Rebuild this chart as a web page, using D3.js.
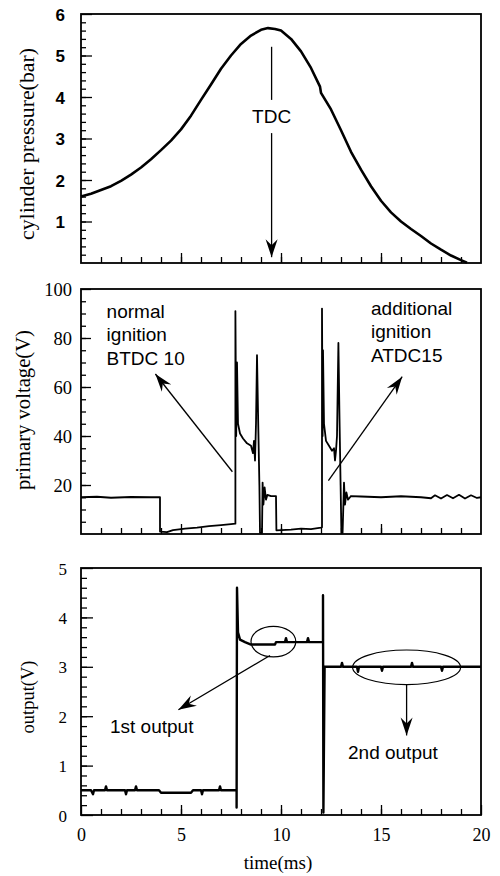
<!DOCTYPE html>
<html>
<head>
<meta charset="utf-8">
<script src="https://cdn.jsdelivr.net/npm/d3@7"></script>
<style>
  body { margin: 0; background: #fff; }
</style>
</head>
<body>
<script>
let width = 500,
    height = 876;

// cylinder pressure (bar) vs time (ms)
let pressureTime  = [0, 0.5, 1.0, 1.5, 2.0, 2.5, 3.0, 3.5, 4.0, 4.5, 5.0, 5.5, 6.0, 6.5, 7.0, 7.5, 8.0, 8.5, 9.0, 9.35, 9.7, 10.0, 10.5, 11.0, 11.5, 11.95, 12.0, 12.5, 13.0, 13.5, 14.0, 14.5, 15.0, 15.5, 16.0, 16.5, 17.0, 17.5, 18.0, 18.5, 19.0, 19.3];
let pressureValue = [1.6, 1.67, 1.76, 1.85, 1.98, 2.13, 2.3, 2.5, 2.72, 2.95, 3.22, 3.55, 3.93, 4.3, 4.68, 5.0, 5.28, 5.48, 5.62, 5.66, 5.64, 5.6, 5.4, 5.1, 4.7, 4.25, 4.1, 3.7, 3.2, 2.68, 2.25, 1.85, 1.5, 1.22, 1.0, 0.82, 0.65, 0.47, 0.32, 0.18, 0.07, 0.01];

// primary voltage (V)
let voltageTime  = [0, 0.8, 1.5, 2.5, 3.5, 3.95, 3.95, 4.3, 4.6, 5.2, 5.8, 6.4, 7.0, 7.5, 7.72, 7.72, 7.76, 7.8, 7.85, 7.95, 8.1, 8.3, 8.5, 8.6, 8.65, 8.7, 8.75, 8.8, 8.85, 8.92, 8.95, 9.05, 9.08, 9.12, 9.18, 9.25, 9.32, 9.5, 9.75, 9.77, 10.5, 11.0, 11.5, 12.0, 12.05, 12.05, 12.08, 12.1, 12.15, 12.25, 12.4, 12.55, 12.65, 12.7, 12.75, 12.8, 12.87, 12.92, 12.98, 13.02, 13.08, 13.15, 13.2, 13.27, 13.35, 13.5, 14.0, 15.0, 16.0, 17.0, 17.5, 17.7, 18.0, 18.3, 18.6, 18.9, 19.2, 19.5, 19.8, 20];
let voltageValue = [15, 15.2, 14.8, 15.1, 15, 15, 1.0, 0.8, 1.6, 2.2, 2.6, 3.2, 3.6, 4.0, 4.2, 91, 40, 70, 45, 41, 39, 37, 36, 33, 38, 30, 45, 73, 50, 20, 0.5, 0.5, 21, 12, 19, 14, 16, 15.5, 15.5, 1.5, 1.8, 2.2, 2.0, 2.6, 2.8, 92, 40, 75, 45, 38, 36, 34, 35, 30, 34, 40, 78, 50, 20, 0.5, 0.5, 21, 12, 17, 14, 15.5, 15.3, 15, 15.4, 15, 14.6, 15.8, 14.5, 15.9, 14.6, 16, 14.5, 15.8, 14.7, 15];

// output (V)
let outputTime  = [0, 0.5, 0.6, 0.65, 1.2, 1.25, 1.3, 2.2, 2.25, 2.3, 2.7, 2.75, 2.8, 3.9, 4.0, 5.5, 5.6, 6.0, 6.05, 6.1, 6.9, 6.95, 7.0, 7.78, 7.78, 7.8, 7.85, 7.95, 8.2, 8.5, 9.7, 9.75, 10.2, 10.25, 10.3, 11.3, 11.35, 11.4, 12.1, 12.1, 12.12, 12.18, 13.0, 13.05, 13.1, 13.8, 13.85, 13.9, 15.0, 15.05, 15.1, 16.5, 16.55, 16.6, 18.0, 18.05, 18.1, 20];
let outputValue = [0.5, 0.5, 0.42, 0.5, 0.5, 0.58, 0.5, 0.5, 0.42, 0.5, 0.5, 0.58, 0.5, 0.5, 0.45, 0.45, 0.5, 0.5, 0.42, 0.5, 0.5, 0.58, 0.5, 0.5, 0.15, 4.6, 3.7, 3.55, 3.5, 3.45, 3.45, 3.5, 3.5, 3.58, 3.5, 3.5, 3.58, 3.5, 3.5, 4.45, 0.05, 3.0, 3.0, 3.08, 3.0, 3.0, 2.9, 3.0, 3.0, 2.92, 3.0, 3.0, 3.08, 3.0, 3.0, 2.92, 3.0, 3.0];

let pressureTicks = [1, 2, 3, 4, 5, 6];
let voltageTicks  = [20, 40, 60, 80, 100];
let outputTicks   = [0, 1, 2, 3, 4, 5];
let timeTicks     = [0, 5, 10, 15, 20];

let svg = d3.select("body")
            .append("svg")
            .attr("width", width)
            .attr("height", height);

svg.append("defs").append("marker")
   .attr("id", "head")
   .attr("viewBox", "-20 -7 22 14")
   .attr("markerWidth", 22)
   .attr("markerHeight", 14)
   .attr("markerUnits", "userSpaceOnUse")
   .attr("orient", "auto")
   .append("path")
   .attr("d", "M0,0 L-18,-6 L-12,0 L-18,6 Z")
   .attr("fill", "#000");

let xScale = d3.scaleLinear().domain([0, 20]).range([81, 481]);

let yPressure = d3.scaleLinear().domain([0, 6]).range([263, 14]);
let yVoltage  = d3.scaleLinear().domain([0, 100]).range([534, 289]);
let yOutput   = d3.scaleLinear().domain([0, 5]).range([815, 568]);

let serif = "'Liberation Serif', 'Times New Roman', serif";
let sans  = "'Liberation Sans', Arial, sans-serif";

function frame(yScale, major, minor, opts) {
  let g = svg.append("g");
  let y0 = yScale.range()[0];

  // minor y ticks
  g.append("g")
   .attr("transform", "translate(" + xScale(0) + ",0)")
   .call(d3.axisLeft(yScale).tickValues(minor).tickSizeInner(-opts.minorLen).tickSizeOuter(0).tickFormat(""));
  // major y ticks + labels
  let ya = g.append("g")
   .attr("transform", "translate(" + xScale(0) + ",0)")
   .call(d3.axisLeft(yScale).tickValues(major).tickSizeInner(-opts.majorLen).tickSizeOuter(0)
         .tickPadding(opts.pad).tickFormat(d3.format("d")));
  ya.selectAll("text")
    .style("font-family", opts.font)
    .style("font-size", opts.size + "px")
    .style("font-weight", opts.weight || "normal")
    .attr("dy", "0.36em");

  // x ticks
  g.append("g")
   .attr("transform", "translate(0," + y0 + ")")
   .call(d3.axisBottom(xScale).tickValues(d3.range(1, 20)).tickSizeInner(-6).tickSizeOuter(0).tickFormat(""));
  let xa = g.append("g")
   .attr("transform", "translate(0," + y0 + ")")
   .call(d3.axisBottom(xScale).tickValues(opts.xLabels ? timeTicks : [5, 10, 15]).tickSizeInner(-10).tickSizeOuter(0).tickPadding(13)
         .tickFormat(opts.xLabels ? d3.format("d") : ""));
  xa.selectAll("text")
    .style("font-family", serif)
    .style("font-size", "18px");

  g.selectAll(".domain").remove();
  g.selectAll(".tick line").attr("stroke", "#000").attr("stroke-width", 1.3);
  g.selectAll(".tick text").attr("fill", "#000");

  g.append("rect")
   .attr("x", xScale(0))
   .attr("y", yScale.range()[1])
   .attr("width", xScale(20) - xScale(0))
   .attr("height", y0 - yScale.range()[1])
   .attr("fill", "none")
   .attr("stroke", "#000")
   .attr("stroke-width", 1.8);
}

frame(yPressure, pressureTicks, d3.range(0.2, 6, 0.2), {font: sans, size: 17, weight: "bold", pad: 16, majorLen: 11, minorLen: 5});
frame(yVoltage, voltageTicks, d3.range(5, 100, 5), {font: serif, size: 18.5, pad: 9, majorLen: 10, minorLen: 5});
frame(yOutput, outputTicks, d3.range(0.2, 5, 0.2), {font: serif, size: 17, pad: 14, majorLen: 12, minorLen: 6, xLabels: true});

function trace(times, values, yScale, w) {
  let pts = times.map(function(t, i) { return [t, values[i]]; });
  svg.append("path")
     .datum(pts)
     .attr("fill", "none")
     .attr("stroke", "#000")
     .attr("stroke-width", w)
     .attr("stroke-linejoin", "round")
     .attr("d", d3.line()
        .x(function(d) { return xScale(d[0]); })
        .y(function(d) { return yScale(d[1]); }));
}

trace(pressureTime, pressureValue, yPressure, 2.6);
trace(voltageTime, voltageValue, yVoltage, 1.8);
trace(outputTime, outputValue, yOutput, 2.4);

// annotations
function arrow(yScale, t1, v1, t2, v2, head) {
  let l = svg.append("line")
     .attr("x1", xScale(t1)).attr("y1", yScale(v1))
     .attr("x2", xScale(t2)).attr("y2", yScale(v2))
     .attr("stroke", "#000")
     .attr("stroke-width", 1.3);
  if (head) l.attr("marker-end", "url(#head)");
}

function label(yScale, t, v, txt, anchor) {
  svg.append("text")
     .attr("x", xScale(t))
     .attr("y", yScale(v))
     .attr("text-anchor", anchor || "start")
     .style("font-family", sans)
     .style("font-size", "19px")
     .text(txt);
}

// TDC
arrow(yPressure, 9.53, 5.21, 9.53, 3.93, false);
label(yPressure, 9.53, 3.37, "TDC", "middle");
arrow(yPressure, 9.53, 3.13, 9.53, 0.14, true);

// ignition labels
label(yVoltage, 1.28, 88.2, "normal");
label(yVoltage, 1.28, 78.6, "ignition");
label(yVoltage, 1.28, 69.0, "BTDC 10");
arrow(yVoltage, 7.57, 25.4, 3.72, 65.3, true);

label(yVoltage, 14.5, 89.4, "additional");
label(yVoltage, 14.5, 79.8, "ignition");
label(yVoltage, 14.5, 70.2, "ATDC15");
arrow(yVoltage, 12.37, 21.8, 16.06, 64.2, true);

// output annotations
svg.append("ellipse")
   .attr("cx", xScale(9.62)).attr("cy", yOutput(3.51))
   .attr("rx", xScale(9.62 + 1.12) - xScale(9.62))
   .attr("ry", yOutput(3.51 - 0.31) - yOutput(3.51))
   .attr("fill", "none").attr("stroke", "#000").attr("stroke-width", 1.2);
svg.append("ellipse")
   .attr("cx", xScale(16.28)).attr("cy", yOutput(2.99))
   .attr("rx", xScale(16.28 + 2.7) - xScale(16.28))
   .attr("ry", yOutput(2.99 - 0.35) - yOutput(2.99))
   .attr("fill", "none").attr("stroke", "#000").attr("stroke-width", 1.2);

arrow(yOutput, 9.45, 3.23, 4.87, 2.13, true);
arrow(yOutput, 16.28, 2.64, 16.28, 1.61, true);
label(yOutput, 1.45, 1.65, "1st output");
label(yOutput, 13.35, 1.13, "2nd output");

// axis titles
function yTitle(x, y, txt, len, size) {
  svg.append("text")
     .attr("transform", "translate(" + x + "," + y + ") rotate(-90)")
     .attr("text-anchor", "middle")
     .attr("dy", "0.3em")
     .attr("textLength", len)
     .attr("lengthAdjust", "spacingAndGlyphs")
     .style("font-family", serif)
     .style("font-size", size + "px")
     .text(txt);
}
yTitle(28, 144, "cylinder pressure(bar)", 192, 20);
yTitle(24, 410, "primary voltage(V)", 160, 20);
yTitle(28, 697, "output(V)", 73, 18.5);

svg.append("text")
   .attr("x", xScale(9.85))
   .attr("y", 869)
   .attr("text-anchor", "middle")
   .style("font-family", serif)
   .style("font-size", "19px")
   .text("time(ms)");
</script>
</body>
</html>
